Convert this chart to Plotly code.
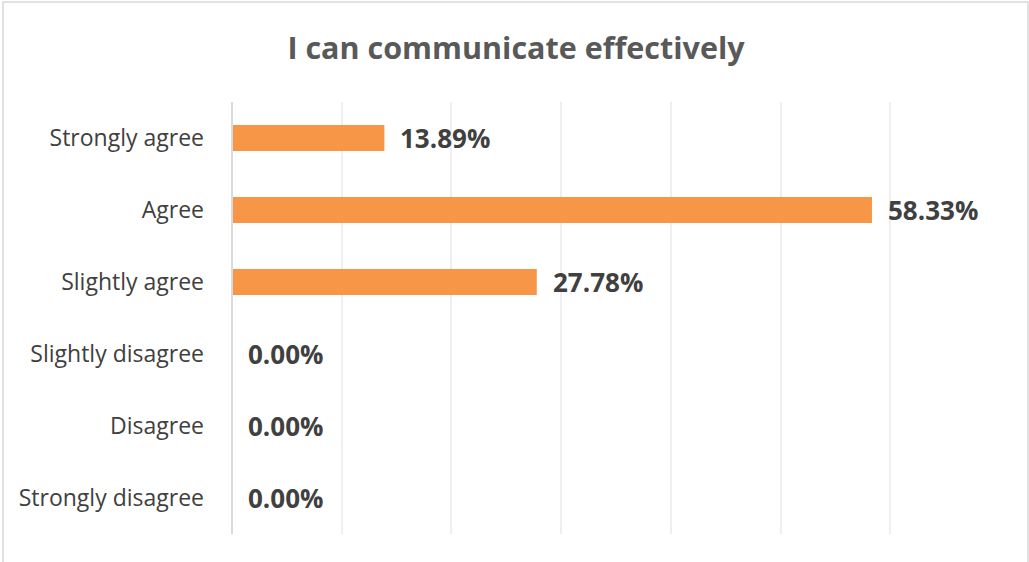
import plotly.graph_objects as go

categories = ["Strongly agree", "Agree", "Slightly agree",
              "Slightly disagree", "Disagree", "Strongly disagree"]
values = [13.89, 58.33, 27.78, 0.00, 0.00, 0.00]
labels = ["13.89%", "58.33%", "27.78%", "0.00%", "0.00%", "0.00%"]
title_text = "I can communicate effectively"

W, H = 1029, 562
ml, mr, mt, mb = 232, 29, 102, 28
pw, ph = W - ml - mr, H - mt - mb

fig = go.Figure(go.Bar(
    y=categories, x=values, orientation="h",
    marker=dict(color="#F79646", line=dict(width=0)),
    width=0.36, hoverinfo="skip",
))

annotations = [
    dict(x=v, y=c, xref="x", yref="y", text=t, showarrow=False,
         xanchor="left", yanchor="middle", xshift=14,
         font=dict(family="Open Sans", size=26, color="#404040", weight="bold"))
    for c, v, t in zip(categories, values, labels)
]

def px_x(p):
    return (p - ml) / pw

def px_y(p):
    return (H - mb - p) / ph

fig.update_layout(
    width=W, height=H,
    margin=dict(l=ml, r=mr, t=mt, b=mb),
    paper_bgcolor="white", plot_bgcolor="white",
    showlegend=False,
    title=dict(text=title_text, x=516 / W, xanchor="center", xref="container",
               y=1 - 48 / H, yanchor="middle", yref="container",
               font=dict(family="Open Sans", size=30.5, color="#595959", weight="bold")),
    xaxis=dict(range=[0, 70], dtick=10, showgrid=True, gridcolor="#EFEFEF", gridwidth=1.5,
               showticklabels=False, zeroline=False, showline=False, ticks="", fixedrange=True),
    yaxis=dict(categoryorder="array", categoryarray=categories[::-1],
               showgrid=False, zeroline=False, showline=False, ticks="",
               ticklabelstandoff=27, fixedrange=True,
               tickfont=dict(family="Open Sans", size=23, color="#404040")),
    annotations=annotations,
    shapes=[
        dict(type="line", xref="paper", yref="paper", x0=0, x1=0, y0=0, y1=1,
             line=dict(color="#D9D9D9", width=2), layer="above"),
        dict(type="rect", xref="paper", yref="paper",
             x0=px_x(3), x1=px_x(1028), y0=px_y(H + 5), y1=px_y(2),
             line=dict(color="#D9D9D9", width=1.5), fillcolor="rgba(0,0,0,0)"),
    ],
)

fig.write_html("out.html", config={"displayModeBar": False},
               post_script="document.body.style.margin='0';document.body.style.overflow='hidden';")
